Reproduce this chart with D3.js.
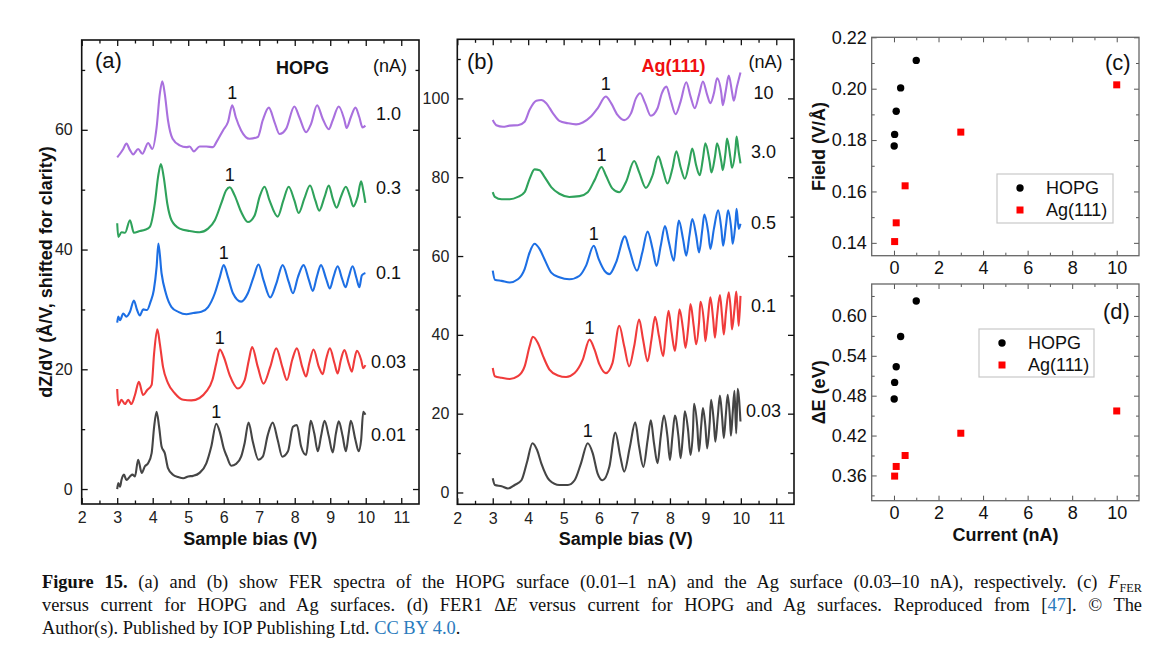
<!DOCTYPE html>
<html><head><meta charset="utf-8">
<script src="https://cdn.jsdelivr.net/npm/d3@7"></script>
<style>body{margin:0;background:#fff} svg{display:block}</style>
</head><body>
<svg id="chart" width="1167" height="671"></svg>
<script>
// ---------------- DATA ----------------
const biasMajorTicks = [2,3,4,5,6,7,8,9,10,11];
const biasMinorTicks = [2.5,3.5,4.5,5.5,6.5,7.5,8.5,9.5,10.5];
const aYMajor = [0,20,40,60];
const aYMinor = [10,30,50,70];
const bYMajor = [0,20,40,60,80,100];
const bYMinor = [10,30,50,70,90,110];
const currentMajor = [0,2,4,6,8,10];
const currentMinor = [1,3,5,7,9];
const fieldMajor = [0.14,0.16,0.18,0.20,0.22];
const fieldMinor = [0.15,0.17,0.19,0.21];
const deMajor = [0.36,0.42,0.48,0.54,0.60];
const deMinor = [0.33,0.39,0.45,0.51,0.57,0.63];

const hopgCurrents = ["1.0","0.3","0.1","0.03","0.01"];
const agCurrents = ["10","3.0","0.5","0.1","0.03"];
const hopgPeak1 = [6.24,6.17,6.0,5.89,5.79];
const agPeak1 = [6.19,6.07,5.85,5.73,5.68];

// HOPG spectra (bias V, dZ/dV shifted)
const hopg_1p0 = [[3.0,55.4],[3.08,56.0],[3.17,56.8],[3.26,57.7],[3.36,56.6],[3.45,55.9],[3.59,56.8],[3.71,56.0],[3.87,57.8],[3.99,56.8],[4.11,60.4],[4.2,66.0],[4.27,68.1],[4.34,66.0],[4.43,61.6],[4.56,58.5],[4.76,57.4],[4.95,57.1],[5.04,57.2],[5.16,56.4],[5.32,57.2],[5.51,57.2],[5.7,57.1],[5.79,57.9],[5.98,59.9],[6.12,61.3],[6.24,64.1],[6.34,62.1],[6.49,59.9],[6.73,58.5],[6.96,58.8],[7.1,61.6],[7.27,63.7],[7.43,61.3],[7.57,59.3],[7.76,60.2],[7.99,63.9],[8.13,62.1],[8.32,59.6],[8.46,61.0],[8.63,64.1],[8.79,61.8],[8.96,60.1],[9.07,61.6],[9.24,63.9],[9.4,61.6],[9.46,60.3],[9.58,62.1],[9.71,63.7],[9.82,62.1],[9.91,60.4],[9.99,60.7]];
const hopg_0p3 = [[3.0,44.4],[3.03,42.1],[3.12,42.9],[3.22,42.8],[3.36,44.9],[3.47,42.8],[3.64,43.1],[3.78,43.3],[3.92,43.8],[4.06,47.7],[4.15,52.1],[4.23,54.3],[4.31,52.1],[4.41,47.7],[4.53,44.9],[4.76,43.5],[5.04,43.1],[5.32,42.9],[5.56,43.5],[5.75,44.9],[5.93,47.7],[6.07,49.9],[6.17,50.4],[6.31,49.0],[6.49,46.3],[6.68,44.6],[6.87,45.7],[7.01,48.8],[7.15,50.5],[7.29,48.2],[7.52,45.5],[7.68,48.2],[7.83,50.5],[7.99,48.2],[8.11,46.1],[8.27,48.5],[8.43,50.7],[8.58,48.2],[8.69,46.5],[8.84,48.8],[8.96,50.7],[9.07,48.5],[9.18,47.0],[9.3,48.8],[9.44,50.5],[9.56,48.8],[9.65,47.2],[9.77,48.8],[9.87,51.4],[9.93,49.9],[9.99,47.8]];
const hopg_0p1 = [[3.0,27.8],[3.03,28.8],[3.08,28.2],[3.17,29.3],[3.26,28.8],[3.36,29.6],[3.47,31.5],[3.56,29.9],[3.64,29.0],[3.73,30.0],[3.84,29.9],[3.94,31.3],[4.03,33.2],[4.11,37.1],[4.16,41.0],[4.25,36.0],[4.37,32.7],[4.53,30.4],[4.72,29.6],[4.95,29.2],[5.14,29.4],[5.37,29.6],[5.56,30.4],[5.75,32.7],[5.89,35.4],[6.0,37.4],[6.12,35.4],[6.26,32.7],[6.49,31.3],[6.68,32.7],[6.84,35.4],[6.98,37.5],[7.12,34.9],[7.31,32.0],[7.48,34.3],[7.66,37.4],[7.83,34.6],[7.95,32.7],[8.09,35.4],[8.25,37.4],[8.4,34.9],[8.51,33.1],[8.62,35.4],[8.74,37.4],[8.88,35.2],[8.99,33.5],[9.09,35.4],[9.21,37.2],[9.33,35.2],[9.43,33.7],[9.52,35.4],[9.63,37.2],[9.74,35.2],[9.82,33.7],[9.89,35.7],[9.99,36.1]];
const hopg_0p03 = [[3.0,16.7],[3.03,14.0],[3.12,14.9],[3.22,14.2],[3.31,14.9],[3.4,14.2],[3.5,15.7],[3.61,17.9],[3.73,15.7],[3.84,16.5],[3.97,17.4],[4.04,22.7],[4.13,26.7],[4.2,24.3],[4.29,20.4],[4.43,17.7],[4.62,16.0],[4.86,14.9],[5.09,14.8],[5.32,15.2],[5.51,16.3],[5.68,18.2],[5.79,21.0],[5.89,23.3],[6.0,22.1],[6.17,19.0],[6.4,16.8],[6.59,18.2],[6.71,21.6],[6.8,23.7],[6.96,20.4],[7.12,17.6],[7.31,20.4],[7.48,23.5],[7.65,20.4],[7.78,18.2],[7.93,21.6],[8.06,23.5],[8.21,20.4],[8.32,18.8],[8.41,21.0],[8.53,23.3],[8.68,20.4],[8.79,19.2],[8.88,21.6],[8.99,23.5],[9.12,21.0],[9.21,19.3],[9.3,21.6],[9.4,23.2],[9.52,21.0],[9.61,19.6],[9.68,21.6],[9.75,23.1],[9.87,21.6],[9.93,20.2],[9.99,20.7]];
const hopg_0p01 = [[3.0,0.0],[3.03,1.0],[3.08,0.4],[3.12,1.5],[3.19,2.4],[3.26,1.5],[3.36,2.1],[3.43,2.4],[3.5,2.1],[3.59,4.9],[3.69,2.7],[3.78,3.8],[3.87,4.3],[3.97,6.0],[4.04,10.4],[4.11,12.9],[4.18,10.4],[4.25,7.1],[4.34,6.0],[4.43,3.5],[4.57,2.4],[4.72,2.0],[4.86,1.8],[5.0,2.1],[5.14,2.2],[5.32,2.7],[5.51,4.3],[5.65,7.1],[5.79,10.9],[5.9,9.3],[6.0,6.8],[6.09,5.4],[6.21,3.9],[6.35,4.2],[6.49,5.4],[6.59,7.7],[6.7,11.1],[6.82,7.9],[6.98,4.9],[7.1,5.4],[7.24,9.0],[7.38,11.1],[7.52,8.2],[7.65,5.4],[7.81,6.3],[7.95,10.4],[8.06,10.7],[8.18,7.1],[8.32,5.7],[8.4,9.3],[8.45,11.4],[8.55,9.3],[8.65,6.3],[8.74,8.8],[8.84,11.4],[8.96,8.8],[9.07,6.1],[9.16,9.3],[9.24,11.3],[9.35,8.8],[9.44,6.3],[9.52,9.3],[9.58,11.4],[9.71,8.2],[9.8,6.3],[9.87,8.2],[9.93,12.9],[9.99,12.4]];

// Ag(111) spectra
const ag_10 = [[3.0,94.5],[3.1,93.2],[3.29,92.8],[3.48,93.1],[3.71,93.2],[3.9,94.1],[4.04,97.1],[4.23,99.4],[4.37,99.6],[4.51,98.8],[4.7,96.2],[4.88,94.3],[5.12,93.7],[5.35,93.4],[5.54,93.9],[5.77,95.4],[5.96,97.5],[6.19,100.5],[6.34,98.8],[6.52,95.8],[6.71,94.5],[6.9,96.2],[7.04,100.0],[7.16,101.3],[7.3,98.8],[7.46,95.6],[7.65,97.5],[7.77,101.3],[7.9,103.0],[8.02,99.6],[8.16,96.0],[8.3,99.2],[8.46,104.1],[8.58,100.5],[8.7,97.5],[8.82,100.9],[8.93,104.3],[9.05,100.9],[9.14,98.8],[9.24,101.3],[9.33,105.1],[9.45,101.3],[9.49,98.3],[9.57,101.7],[9.66,105.8],[9.75,101.7],[9.8,99.4],[9.89,103.0],[9.99,106.6]];
const ag_3p0 = [[3.0,76.2],[3.06,75.0],[3.25,74.4],[3.48,74.4],[3.71,75.0],[3.9,76.2],[4.04,79.6],[4.18,82.0],[4.32,81.8],[4.46,80.1],[4.65,77.5],[4.88,75.8],[5.16,75.0],[5.45,75.2],[5.68,76.2],[5.87,79.2],[6.07,82.6],[6.19,80.5],[6.38,77.1],[6.57,76.2],[6.76,78.8],[6.99,84.1],[7.13,81.3],[7.32,77.3],[7.51,80.5],[7.67,85.3],[7.79,82.2],[7.93,78.4],[8.07,82.2],[8.18,86.6],[8.3,82.6],[8.42,79.6],[8.54,83.5],[8.63,87.3],[8.74,83.0],[8.84,80.5],[8.93,84.7],[9.0,88.6],[9.12,83.9],[9.17,81.2],[9.27,85.2],[9.33,88.6],[9.45,83.9],[9.49,81.8],[9.57,86.4],[9.61,89.8],[9.71,84.7],[9.75,82.4],[9.85,87.3],[9.88,90.3],[9.94,86.4],[9.99,83.5]];
const ag_0p5 = [[3.0,56.3],[3.06,54.0],[3.25,53.7],[3.48,53.3],[3.71,54.1],[3.9,56.7],[4.04,60.9],[4.18,63.1],[4.32,61.8],[4.46,59.2],[4.65,55.8],[4.88,54.6],[5.16,54.1],[5.45,55.0],[5.63,57.5],[5.85,62.6],[5.99,59.2],[6.15,56.3],[6.29,55.4],[6.48,58.4],[6.73,65.0],[6.85,61.8],[7.07,56.3],[7.22,60.9],[7.37,66.2],[7.51,61.8],[7.62,57.5],[7.74,62.6],[7.86,67.6],[7.97,63.5],[8.11,58.8],[8.18,64.3],[8.25,69.0],[8.37,64.3],[8.46,60.1],[8.55,65.2],[8.63,69.4],[8.74,65.2],[8.82,60.9],[8.91,66.5],[8.97,70.5],[9.08,66.0],[9.14,61.8],[9.24,66.9],[9.36,71.6],[9.45,66.9],[9.5,62.6],[9.58,67.7],[9.64,71.6],[9.73,66.9],[9.77,63.1],[9.85,68.6],[9.88,72.0],[9.94,66.9],[9.99,68.2]];
const ag_0p1 = [[3.0,31.6],[3.06,29.5],[3.25,29.1],[3.48,28.8],[3.71,29.5],[3.9,32.0],[4.04,37.1],[4.13,39.5],[4.27,38.0],[4.42,34.6],[4.6,31.2],[4.84,29.7],[5.07,29.3],[5.31,30.3],[5.54,33.7],[5.73,38.8],[5.87,36.3],[6.01,32.5],[6.19,30.3],[6.38,32.9],[6.57,42.3],[6.71,37.1],[6.85,32.0],[6.99,37.1],[7.13,43.9],[7.24,38.9],[7.37,33.3],[7.48,38.9],[7.58,44.6],[7.69,39.7],[7.81,34.6],[7.88,40.5],[7.96,46.1],[8.05,40.5],[8.14,35.9],[8.21,41.4],[8.27,46.5],[8.37,41.4],[8.44,36.7],[8.52,42.3],[8.58,47.8],[8.67,42.3],[8.74,37.6],[8.82,43.1],[8.86,48.4],[8.96,43.1],[9.0,38.4],[9.07,43.9],[9.14,49.5],[9.22,43.9],[9.27,39.3],[9.33,44.8],[9.41,50.1],[9.47,44.8],[9.52,40.1],[9.58,45.7],[9.66,50.8],[9.72,45.7],[9.75,41.4],[9.82,46.5],[9.87,51.0],[9.91,46.5],[9.94,42.3],[9.99,49.9]];
const ag_0p03 = [[3.0,3.6],[3.06,1.9],[3.25,1.6],[3.43,1.0],[3.62,1.9],[3.81,3.1],[3.97,7.8],[4.12,12.5],[4.25,10.8],[4.37,7.4],[4.6,3.1],[4.88,1.9],[5.12,1.9],[5.31,3.1],[5.49,7.4],[5.68,12.5],[5.82,10.0],[5.96,4.8],[6.1,3.1],[6.29,6.5],[6.46,15.2],[6.6,9.1],[6.71,5.3],[6.87,11.6],[7.02,17.8],[7.13,11.6],[7.25,6.5],[7.37,13.3],[7.46,18.3],[7.55,12.5],[7.65,7.4],[7.74,14.2],[7.83,19.5],[7.93,14.2],[8.0,8.2],[8.07,14.2],[8.14,19.5],[8.24,14.2],[8.3,8.7],[8.37,15.0],[8.42,20.6],[8.51,15.9],[8.58,9.5],[8.65,15.9],[8.68,22.5],[8.77,16.8],[8.82,10.4],[8.88,16.8],[8.93,21.4],[9.0,16.8],[9.05,11.2],[9.12,17.6],[9.16,23.5],[9.24,17.6],[9.28,12.9],[9.35,19.3],[9.41,24.6],[9.47,19.3],[9.52,13.8],[9.58,20.1],[9.63,24.8],[9.69,19.3],[9.72,14.4],[9.77,20.1],[9.82,25.8],[9.87,15.0],[9.91,26.3],[9.99,18.0]];

const hopgSpectra = [hopg_1p0, hopg_0p3, hopg_0p1, hopg_0p03, hopg_0p01];
const agSpectra = [ag_10, ag_3p0, ag_0p5, ag_0p1, ag_0p03];

// (c) and (d)
const hopgCurrentNA = [0.01,0.03,0.1,0.3,1.0];
const hopgField = [0.1777,0.1822,0.1912,0.2003,0.2110];
const hopgDeltaE = [0.475,0.500,0.5235,0.569,0.6225];
const agCurrentNA = [0.03,0.1,0.5,3.0,10];
const agField = [0.1405,0.1478,0.1622,0.1831,0.2015];
const agDeltaE = [0.359,0.3735,0.390,0.4235,0.457];

// ---------------- DRAWING ----------------
const SANS = "'Liberation Sans', Arial, Helvetica, sans-serif";
const SERIF = "'Liberation Serif', 'Times New Roman', serif";
const curveColors = ["#a970de","#2fa25b","#1d6fe4","#f03b3b","#454545"];
const svg = d3.select('#chart');
svg.append('rect').attr('width',1167).attr('height',671).attr('fill','#fff');

function addAxes(g, x, y, o){
  const [xa,xb] = x.range(), [yb,ya] = y.range();
  const style = sel => { sel.attr('font-family',SANS).attr('font-size',o.fs).attr('color',o.tc);
    sel.select('.domain').remove();
    sel.selectAll('line').attr('stroke-width',o.tw);
    sel.selectAll('text').attr('fill',o.lc); };
  const none = () => '';
  g.append('g').attr('transform',`translate(0,${yb})`).call(d3.axisBottom(x).tickValues(o.xMaj).tickFormat(o.xFmt).tickSizeInner(-o.maj).tickSizeOuter(0).tickPadding(o.xPad)).call(style);
  g.append('g').attr('transform',`translate(0,${yb})`).call(d3.axisBottom(x).tickValues(o.xMin).tickFormat(none).tickSizeInner(-o.min).tickSizeOuter(0)).call(style);
  g.append('g').attr('transform',`translate(0,${ya})`).call(d3.axisTop(x).tickValues(o.xMaj).tickFormat(none).tickSizeInner(-o.maj).tickSizeOuter(0)).call(style);
  g.append('g').attr('transform',`translate(0,${ya})`).call(d3.axisTop(x).tickValues(o.xMin).tickFormat(none).tickSizeInner(-o.min).tickSizeOuter(0)).call(style);
  g.append('g').attr('transform',`translate(${xa},0)`).call(d3.axisLeft(y).tickValues(o.yMaj).tickFormat(o.yFmt).tickSizeInner(-o.maj).tickSizeOuter(0).tickPadding(o.yPad)).call(style);
  g.append('g').attr('transform',`translate(${xa},0)`).call(d3.axisLeft(y).tickValues(o.yMin).tickFormat(none).tickSizeInner(-o.min).tickSizeOuter(0)).call(style);
  g.append('g').attr('transform',`translate(${xb},0)`).call(d3.axisRight(y).tickValues(o.yMaj).tickFormat(none).tickSizeInner(-o.maj).tickSizeOuter(0)).call(style);
  g.append('g').attr('transform',`translate(${xb},0)`).call(d3.axisRight(y).tickValues(o.yMin).tickFormat(none).tickSizeInner(-o.min).tickSizeOuter(0)).call(style);
  g.append('rect').attr('x',xa).attr('y',ya).attr('width',xb-xa).attr('height',yb-ya)
    .attr('fill','none').attr('stroke',o.fc).attr('stroke-width',o.fw);
}

function text(g, x, y, s, o={}){
  return g.append('text').attr('x',x).attr('y',y).text(s)
    .attr('font-family',SANS).attr('font-size',o.fs||18)
    .attr('font-weight',o.bold?'bold':'normal').attr('fill',o.fill||'#111')
    .attr('text-anchor',o.anchor||'start');
}

function spectraPanel(cfg){
  const g = svg.append('g');
  const x = d3.scaleLinear().domain([2,11.5]).range(cfg.xr);
  const y = d3.scaleLinear().domain(cfg.yd).range(cfg.yr);
  const line = d3.line().x(d=>x(d[0])).y(d=>y(d[1])).curve(d3.curveMonotoneX);
  cfg.series.forEach((s,i)=>{
    g.append('path').datum(s).attr('d',line).attr('fill','none')
      .attr('stroke',curveColors[i]).attr('stroke-width',2.1).attr('stroke-linejoin','round');
    const pk = s.reduce((a,b)=> Math.abs(b[0]-cfg.peaks[i])<Math.abs(a[0]-cfg.peaks[i])?b:a);
    text(g, x(pk[0]), y(pk[1])-6, '1', {anchor:'middle', fs:18});
    text(g, x(10.64), y(cfg.labelY[i]), cfg.currents[i], {anchor:'middle', fs:18});
  });
  addAxes(g, x, y, {xMaj:biasMajorTicks, xMin:biasMinorTicks, yMaj:cfg.yMaj, yMin:cfg.yMin,
    xFmt:d3.format('d'), yFmt:d3.format('d'), maj:6, min:3.5, xPad:8, yPad:cfg.yPad,
    fs:16, tc:'#111', lc:'#222', tw:1.3, fc:'#111', fw:1.6});
  text(g, (cfg.xr[0]+cfg.xr[1])/2, 545, 'Sample bias (V)', {anchor:'middle', bold:true, fs:18});
  return {g,x,y};
}

const A = spectraPanel({xr:[81.7,419], yd:[-2.5,75], yr:[504,40], series:hopgSpectra,
  peaks:hopgPeak1, currents:hopgCurrents, labelY:[61.7,49.2,35.0,20.2,8.0], yMaj:aYMajor, yMin:aYMinor, yPad:9});
text(A.g, 95, 68, '(a)', {fs:22});
text(A.g, 302.5, 74, 'HOPG', {bold:true, fs:18, anchor:'middle'});
text(A.g, 390, 72, '(nA)', {fs:18, anchor:'middle'});
A.g.append('text').attr('transform','translate(52,272) rotate(-90)').attr('text-anchor','middle')
  .attr('font-family',SANS).attr('font-size',18).attr('font-weight','bold').attr('fill','#111')
  .text('dZ/dV (Å/V, shifted for clarity)');

const B = spectraPanel({xr:[457.3,794], yd:[-3,115], yr:[504.3,39.3], series:agSpectra,
  peaks:agPeak1, currents:agCurrents, labelY:[99.8,84.8,66.9,45.7,19.2], yMaj:bYMajor, yMin:bYMinor, yPad:8});
text(B.g, 467, 69, '(b)', {fs:22});
text(B.g, 673.5, 72, 'Ag(111)', {bold:true, fs:18, anchor:'middle', fill:'#f01010'});
text(B.g, 765.5, 68, '(nA)', {fs:18, anchor:'middle'});

function scatterPanel(cfg){
  const g = svg.append('g');
  const x = d3.scaleLinear().domain([-1,11]).range([871.7,1139]);
  const y = d3.scaleLinear().domain(cfg.yd).range(cfg.yr);
  addAxes(g, x, y, {xMaj:currentMajor, xMin:currentMinor, yMaj:cfg.yMaj, yMin:cfg.yMin,
    xFmt:d3.format('d'), yFmt:d3.format('.2f'), maj:5, min:3, xPad:6, yPad:5,
    fs:18, tc:'#555', lc:'#111', tw:1, fc:'#666', fw:1.3});
  g.selectAll('circle.h').data(hopgCurrentNA).enter().append('circle')
    .attr('cx',d=>x(d)).attr('cy',(d,i)=>y(cfg.hopg[i])).attr('r',3.7).attr('fill','#000');
  const sq = 7;
  g.selectAll('rect.a').data(agCurrentNA).enter().append('rect')
    .attr('x',d=>x(d)-sq/2).attr('y',(d,i)=>y(cfg.ag[i])-sq/2).attr('width',sq).attr('height',sq).attr('fill','#f00');
  const L = cfg.legend;
  g.append('rect').attr('x',L.x).attr('y',L.y).attr('width',L.w).attr('height',L.h)
    .attr('fill','#fff').attr('stroke','#c8c8c8').attr('stroke-width',1.2);
  g.append('circle').attr('cx',L.x+23).attr('cy',L.y+14).attr('r',3.7).attr('fill','#000');
  text(g, L.x+49, L.y+20.4, 'HOPG', {fs:18});
  g.append('rect').attr('x',L.x+23-sq/2).attr('y',L.y+36-sq/2).attr('width',sq).attr('height',sq).attr('fill','#f00');
  text(g, L.x+49, L.y+42.4, 'Ag(111)', {fs:18});
  text(g, cfg.letter.x, cfg.letter.y, cfg.letter.t, {fs:22});
  const cy = (cfg.yr[0]+cfg.yr[1])/2;
  g.append('text').attr('transform',`translate(825,${cy}) rotate(-90)`).attr('text-anchor','middle')
    .attr('font-family',SANS).attr('font-size',18).attr('font-weight','bold').attr('fill','#111')
    .text(cfg.ylabel);
  return {g,x,y};
}

scatterPanel({yd:[0.135,0.22], yr:[255.7,37.3], yMaj:fieldMajor, yMin:fieldMinor,
  hopg:hopgField, ag:agField, legend:{x:997,y:174,w:116,h:49},
  letter:{x:1105,y:70,t:'(c)'}, ylabel:'Field (V/Å)'});
const D = scatterPanel({yd:[0.322,0.648], yr:[500.7,284], yMaj:deMajor, yMin:deMinor,
  hopg:hopgDeltaE, ag:agDeltaE, legend:{x:979,y:329,w:115,h:48},
  letter:{x:1103,y:319,t:'(d)'}, ylabel:'ΔE (eV)'});
text(D.g, 1005.4, 541, 'Current (nA)', {anchor:'middle', bold:true, fs:18});

// ---------------- CAPTION ----------------
const BLUE = '#2a7bbd';
const capLines = [
  {y:588, parts:[{t:'Figure 15.',b:true},{t:' (a) and (b) show FER spectra of the HOPG surface (0.01–1 nA) and the Ag surface (0.03–10 nA), respectively. (c) '},{t:'F',i:true},{t:'FER',sub:true}], fit:true},
  {y:611, parts:[{t:'versus current for HOPG and Ag surfaces. (d) FER1 Δ'},{t:'E',i:true},{t:' versus current for HOPG and Ag surfaces. Reproduced from ['},{t:'47',c:BLUE},{t:']. © The'}], fit:true},
  {y:634, parts:[{t:'Author(s). Published by IOP Publishing Ltd. '},{t:'CC BY 4.0',c:BLUE},{t:'.'}], fit:false}
];
const capX = 42, capW = 1100, capFS = 19.5, capSX = 18.4/19.5;
capLines.forEach(ln=>{
  const t = svg.append('text').attr('x',0).attr('y',0).attr('font-family',SERIF)
    .attr('font-size',capFS).attr('fill','#111')
    .attr('transform',`translate(${capX},${ln.y}) scale(${capSX},1)`);
  ln.parts.forEach(p=>{
    const ts = t.append('tspan').text(p.t);
    if(p.b) ts.attr('font-weight','bold');
    if(p.i) ts.attr('font-style','italic');
    if(p.c) ts.attr('fill',p.c);
    if(p.sub) ts.attr('font-size',13).attr('dy',4);
  });
  if(ln.fit){
    const w = t.node().getComputedTextLength();
    const nSp = ln.parts.map(p=>p.t).join('').split(' ').length-1;
    t.style('word-spacing', ((capW/capSX - w)/nSp)+'px');
  }
});
</script>
</body></html>
